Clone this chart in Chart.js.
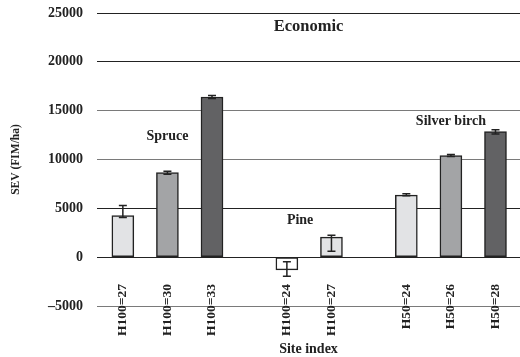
<!DOCTYPE html>
<html>
<head>
<meta charset="utf-8">
<script src="https://cdn.jsdelivr.net/npm/chart.js@4.4.1/dist/chart.umd.min.js"></script>
<style>
  html, body { margin: 0; padding: 0; background: #fff; }
</style>
</head>
<body>
<canvas id="sevChart" width="520" height="357"></canvas>
<script>
// Data
const siteLabels = ['H100=27', 'H100=30', 'H100=33', 'H100=24', 'H100=27', 'H50=24', 'H50=26', 'H50=28'];
const species = ['Spruce', 'Spruce', 'Spruce', 'Pine', 'Pine', 'Silver birch', 'Silver birch', 'Silver birch'];
const sev = [4250, 8650, 16400, -1300, 2050, 6350, 10400, 12850];
const errLow = [4050, 8500, 16250, -1950, 600, 6300, 10300, 12600];
const errHigh = [5300, 8800, 16550, -480, 2250, 6500, 10500, 13050];
const yTicks = [-5000, 0, 5000, 10000, 15000, 20000, 25000];
const panelTitle = 'Economic';

// Styling
const FONT = "'Liberation Serif', 'Times New Roman', serif";
const TEXT = '#222';
const barColors = ['#e2e3e5', '#a3a4a6', '#626264', '#ffffff', '#e2e3e5', '#e2e3e5', '#a3a4a6', '#626264'];
const GROUP_GAP = 0.68; // extra space between species groups, in bar slots

// x position of each bar: its index plus a gap per species group
const groupNames = [...new Set(species)];
const xPos = species.map((s, i) => i + GROUP_GAP * groupNames.indexOf(s));
const X_MIN = -0.58, X_MAX = 8.91;

// Error bars drawn on top of the bars
const errorBars = {
    id: 'errorBars',
    afterDatasetsDraw(chart) {
        const { ctx, scales: { y } } = chart;
        const bars = chart.getDatasetMeta(0).data;
        ctx.save();
        ctx.strokeStyle = TEXT;
        ctx.lineWidth = 1.5;
        bars.forEach((bar, i) => {
            const top = y.getPixelForValue(errHigh[i]);
            const bottom = y.getPixelForValue(errLow[i]);
            ctx.beginPath();
            ctx.moveTo(bar.x, top);
            ctx.lineTo(bar.x, bottom);
            ctx.moveTo(bar.x - 4, top);
            ctx.lineTo(bar.x + 4, top);
            ctx.moveTo(bar.x - 4, bottom);
            ctx.lineTo(bar.x + 4, bottom);
            ctx.stroke();
        });
        ctx.restore();
    }
};

// Species names and panel title inside the plot
const plotText = {
    id: 'plotText',
    afterDraw(chart) {
        const { ctx, chartArea, scales: { x, y } } = chart;
        const groupCenter = name => {
            const xs = xPos.filter((v, i) => species[i] === name);
            return xs[Math.floor(xs.length / 2)];
        };
        ctx.save();
        ctx.fillStyle = TEXT;
        ctx.textBaseline = 'middle';

        ctx.font = 'bold 16.5px ' + FONT;
        ctx.textAlign = 'center';
        ctx.fillText(panelTitle, (chartArea.left + chartArea.right) / 2, y.getPixelForValue(23600));

        ctx.font = 'bold 14px ' + FONT;
        ctx.fillText('Spruce', x.getPixelForValue(groupCenter('Spruce')), y.getPixelForValue(12400));
        ctx.fillText('Silver birch', x.getPixelForValue(groupCenter('Silver birch')), y.getPixelForValue(13900));
        ctx.textAlign = 'left';
        ctx.fillText('Pine', x.getPixelForValue(xPos[species.indexOf('Pine')]), y.getPixelForValue(3800));
        ctx.restore();
    }
};

const setXTicks = scale => { scale.ticks = xPos.map(v => ({ value: v })); };

const ctx = document.getElementById('sevChart').getContext('2d');
const sevChart = new Chart(ctx, {
    type: 'bar',
    data: {
        datasets: [{
            data: xPos.map((x, i) => ({ x: x, y: sev[i] })),
            backgroundColor: barColors,
            borderColor: TEXT,
            borderWidth: 1.5,
            borderSkipped: false,
            barThickness: 22
        }]
    },
    options: {
        responsive: false,
        animation: false,
        devicePixelRatio: 1,
        layout: { padding: { top: 13, right: 0, bottom: 0, left: 0 } },
        plugins: {
            legend: { display: false },
            tooltip: { enabled: false }
        },
        scales: {
            // bottom axis: only reserves room and carries the title
            x: {
                type: 'linear',
                position: 'bottom',
                offset: false,
                min: X_MIN,
                max: X_MAX,
                afterBuildTicks: setXTicks,
                afterFit: scale => { scale.height = 51; },
                grid: { display: false, offset: false },
                border: { display: false },
                ticks: { display: false },
                title: {
                    display: true,
                    text: 'Site index',
                    color: TEXT,
                    font: { family: FONT, size: 14, weight: 'bold' },
                    padding: { top: 0, bottom: -1 }
                }
            },
            // site labels, drawn up from the bottom line so they cross it
            xLabels: {
                type: 'linear',
                axis: 'x',
                position: { y: -5000 },
                offset: false,
                min: X_MIN,
                max: X_MAX,
                afterBuildTicks: setXTicks,
                afterFit: scale => { scale.height = 0; },
                grid: { display: false, offset: false },
                border: { display: false },
                ticks: {
                    autoSkip: false,
                    minRotation: 90,
                    maxRotation: 90,
                    padding: -30,
                    color: TEXT,
                    font: { family: FONT, size: 13.5, weight: 'bold' },
                    callback: (value, index) => siteLabels[index]
                }
            },
            y: {
                min: -5000,
                max: 25000,
                afterBuildTicks: scale => { scale.ticks = yTicks.map(v => ({ value: v })); },
                afterFit: scale => {
                    scale.width = 97;
                    scale.paddingTop = 0;
                    scale.paddingBottom = 0;
                },
                border: { display: false },
                grid: {
                    drawTicks: false,
                    lineWidth: 1,
                    color: c => [-5000, 10000, 15000].includes(c.tick.value) ? '#7a7a7a' : TEXT
                },
                ticks: {
                    padding: 14,
                    color: TEXT,
                    font: { family: FONT, size: 14, weight: 'bold' },
                    callback: v => v < 0 ? '\u2013' + Math.abs(v) : String(v)
                },
                title: {
                    display: true,
                    text: 'SEV (FIM/ha)',
                    color: TEXT,
                    font: { family: FONT, size: 11.5, weight: 'bold' },
                    padding: { top: 9, bottom: 0 }
                }
            }
        }
    },
    plugins: [errorBars, plotText]
});
</script>
</body>
</html>
